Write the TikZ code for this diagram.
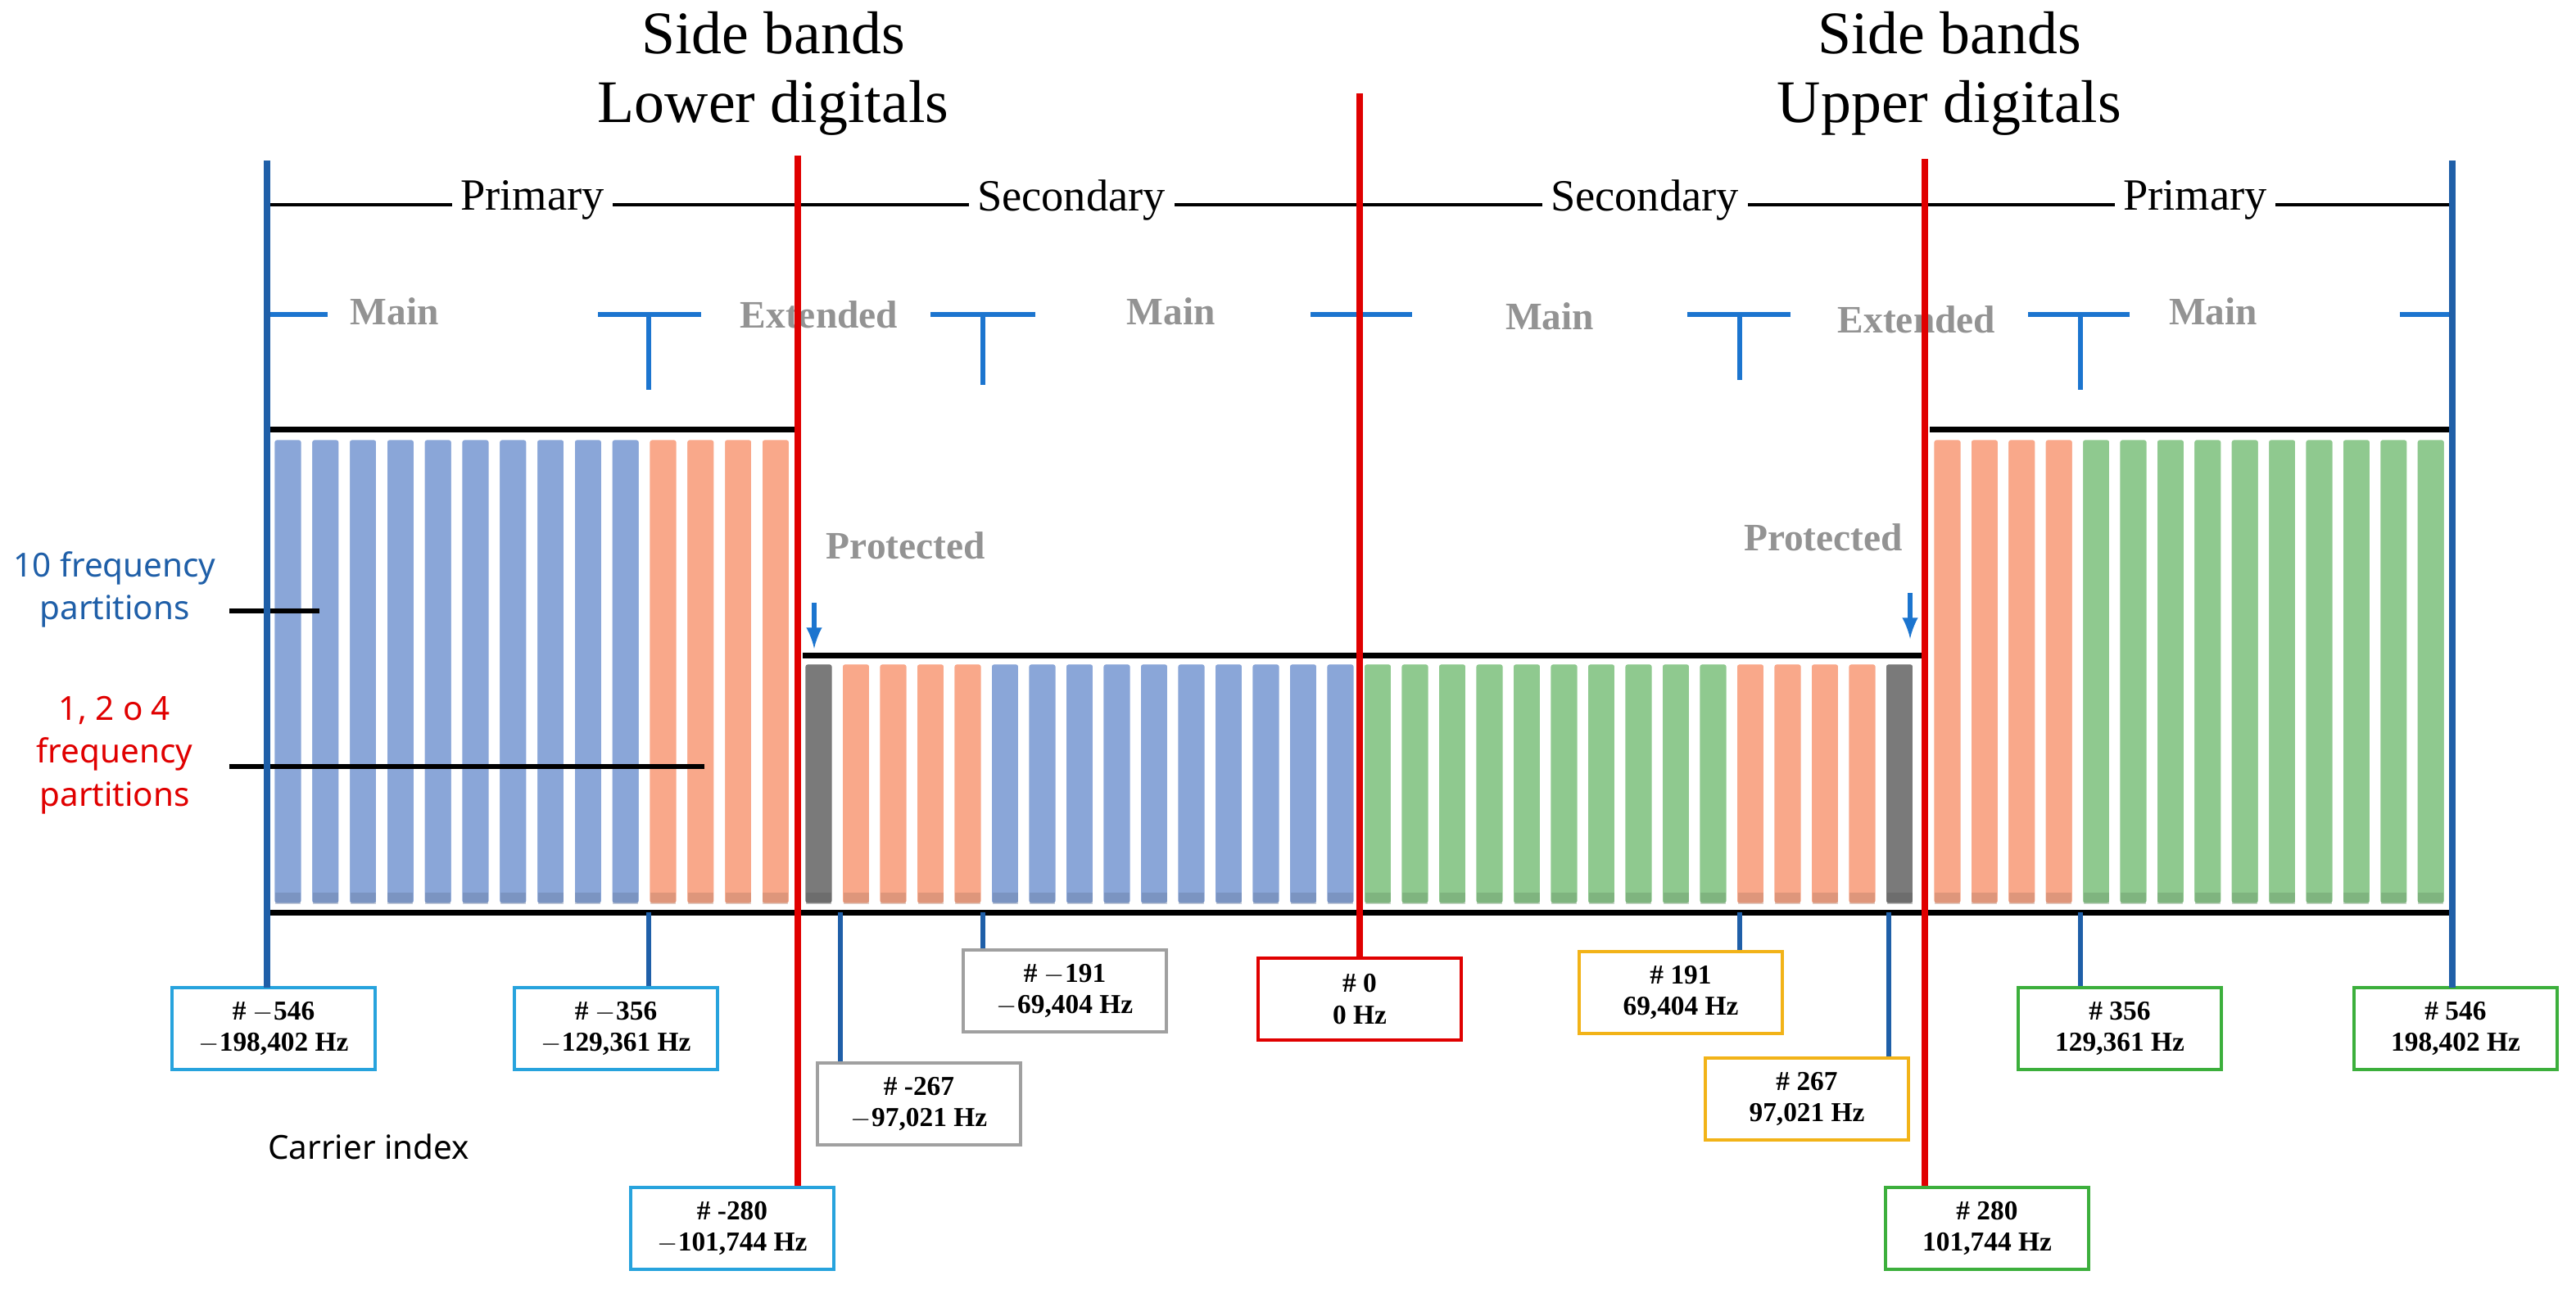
\documentclass[tikz,border=0pt]{standalone}
\usepackage{fontspec}
\setmainfont{Liberation Serif}
\newfontfamily\sansf{Noto Sans}
\definecolor{bblue}{HTML}{1F5FA8}
\definecolor{lblue}{HTML}{1C75CF}
\definecolor{rred}{HTML}{E00000}
\definecolor{barB}{HTML}{8AA6D8}
\definecolor{barO}{HTML}{F9A88A}
\definecolor{barG}{HTML}{8FC98F}
\definecolor{barK}{HTML}{7A7A7A}
\definecolor{cyanb}{HTML}{27A3DD}
\definecolor{grayb}{HTML}{A0A0A0}
\definecolor{yelb}{HTML}{F2B318}
\definecolor{greenb}{HTML}{3CAF3C}
\begin{document}
\begin{tikzpicture}[x=0.02cm,y=-0.02cm,
  bar/.style={draw=white,line width=0.8pt,rounded corners=1pt},
  lbl/.style={draw,line width=0.9pt,fill=white,minimum width=124*0.02cm,minimum height=50*0.02cm,align=center,font=\bfseries\fontsize{9.5}{11}\selectfont,inner sep=1pt},
  sec/.style={font=\fontsize{15.5}{17}\selectfont,fill=white,inner sep=3pt},
  sub/.style={font=\bfseries\fontsize{13.5}{15}\selectfont,text=gray!85,fill=white,inner sep=3pt},
  tick/.style={bblue,line width=1.5pt},
  tee/.style={lblue,line width=1.8pt}]
\useasboundingbox (0,0) rectangle (1572.5,786.5);
% bars
\newcommand{\mybar}[3]{\fill[#3, bar] (#1,#2) rectangle ++(17.5,552-#2);
  \fill[#3!70!black, opacity=.35] (#1+1,545) rectangle ++(15.5,7);}
\foreach \i in {0,...,13}{
  \pgfmathsetmacro\xx{167+\i*22.9}
  \ifnum\i<10 \mybar{\xx}{268}{barB}\else\mybar{\xx}{268}{barO}\fi}
\foreach \i in {0,...,13}{
  \pgfmathsetmacro\xx{1180+\i*22.7}
  \ifnum\i<4 \mybar{\xx}{268}{barO}\else\mybar{\xx}{268}{barG}\fi}
\foreach \i in {0,...,29}{
  \pgfmathsetmacro\xx{491+\i*22.75}
  \ifnum\i=0 \mybar{\xx}{405}{barK}\else
  \ifnum\i<5 \mybar{\xx}{405}{barO}\else
  \ifnum\i<15 \mybar{\xx}{405}{barB}\else
  \ifnum\i<25 \mybar{\xx}{405}{barG}\else
  \ifnum\i<29 \mybar{\xx}{405}{barO}\else \mybar{\xx}{405}{barK}\fi\fi\fi\fi\fi}
% block outlines
\draw[line width=2pt] (165,262) -- (487,262);
\draw[line width=2pt] (1178,262) -- (1497,262);
\draw[line width=2pt] (490,400) -- (1177,400);
\draw[line width=2pt] (165,557) -- (1497,557);
% top row
\draw[line width=1.3pt] (165,125) -- (1497,125);
\node[sec] (p1) at (325,122) {Primary};
\node[sec] (s1) at (654,122) {Secondary};
\node[sec] (s2) at (1004,122) {Secondary};
\node[sec] (p2) at (1340,122) {Primary};
% second row
\draw[tee] (165,192) -- (200,192);
\draw[tee] (365,192) -- (428,192); \draw[tee] (396,192) -- (396,238);
\draw[tee] (568,192) -- (632,192); \draw[tee] (600,192) -- (600,235);
\draw[tee] (800,192) -- (862,192);
\draw[tee] (1030,192) -- (1093,192); \draw[tee] (1062,192) -- (1062,232);
\draw[tee] (1238,192) -- (1300,192); \draw[tee] (1270,192) -- (1270,238);
\draw[tee] (1465,192) -- (1497,192);
\node[sub,fill=none] (m1) at (241,190) {Main};
\node[sub] (e1) at (500,192) {Extended};
\node[sub,fill=none] (m2) at (715,190) {Main};
\node[sub,fill=none] (m3) at (946,193) {Main};
\node[sub] (e2) at (1170,195) {Extended};
\node[sub,fill=none] (m4) at (1351,190) {Main};
% titles
\node[font=\fontsize{21}{24}\selectfont,align=center] (t1) at (472,45) {Side bands\\Lower digitals};
\node[font=\fontsize{21}{24}\selectfont,align=center] (t2) at (1190,45) {Side bands\\Upper digitals};
% protected
\node[sub,fill=none] (pr1) at (553,333) {Protected};
\node[sub,fill=none] (pr2) at (1113,328) {Protected};
\coordinate (a1) at (497,396); \coordinate (a2) at (1166,390);
\draw[-latex,lblue,line width=1.5pt] (497,368) -- (a1);
\draw[-latex,lblue,line width=1.5pt] (1166,362) -- (a2);
% left labels
\node[font=\sansf\fontsize{11.5}{15}\selectfont,text=bblue,align=center] (lb1) at (70,360) {10 frequency\\partitions};
\node[font=\sansf\fontsize{11.5}{15}\selectfont,text=rred,align=center] (lb2) at (70,461) {1, 2 o 4\\frequency\\partitions};
\coordinate (c1) at (195,373); \coordinate (c2) at (430,468);
\draw[line width=1.8pt] (140,373) -- (c1);
\draw[line width=1.8pt] (140,468) -- (c2);
\node[font=\sansf\fontsize{11.5}{14}\selectfont] (ci) at (225,700) {Carrier index};
% boxes
\node[lbl,draw=cyanb] (b1) at (167,628) {\# $-$546\\$-$198,402 Hz};
\node[lbl,draw=cyanb] (b2) at (376,628) {\# $-$356\\$-$129,361 Hz};
\node[lbl,draw=grayb] (b3) at (650,605) {\# $-$191\\$-$69,404 Hz};
\node[lbl,draw=rred] (b4) at (830,610) {\# 0\\0 Hz};
\node[lbl,draw=yelb] (b5) at (1026,606) {\# 191\\69,404 Hz};
\node[lbl,draw=greenb] (b6) at (1294,628) {\# 356\\129,361 Hz};
\node[lbl,draw=greenb] (b7) at (1499,628) {\# 546\\198,402 Hz};
\node[lbl,draw=grayb] (b8) at (561,674) {\# -267\\$-$97,021 Hz};
\node[lbl,draw=yelb] (b9) at (1103,671) {\# 267\\97,021 Hz};
\node[lbl,draw=cyanb] (b10) at (447,750) {\# -280\\$-$101,744 Hz};
\node[lbl,draw=greenb] (b11) at (1213,750) {\# 280\\101,744 Hz};
% ticks
\coordinate (k1) at (163,98); \coordinate (k7) at (1497,98);
\draw[bblue,line width=2.2pt] (163,98) -- (163,603);
\draw[bblue,line width=2.2pt] (1497,98) -- (1497,603);
\draw[tick] (396,557) -- (b2.north -| 396,0);
\draw[tick] (513,557) -- (b8.north -| 513,0);
\draw[tick] (600,557) -- (b3.north -| 600,0);
\draw[tick] (1062,557) -- (b5.north -| 1062,0);
\draw[tick] (1153,557) -- (b9.north -| 1153,0);
\draw[tick] (1270,557) -- (b6.north -| 1270,0);
% red lines
\draw[rred,line width=2.4pt] (487,95) -- (b10.north -| 487,0);
\draw[rred,line width=2.4pt] (830,57) -- (b4.north);
\draw[rred,line width=2.4pt] (1175,97) -- (b11.north -| 1175,0);
\end{tikzpicture}
\end{document}
